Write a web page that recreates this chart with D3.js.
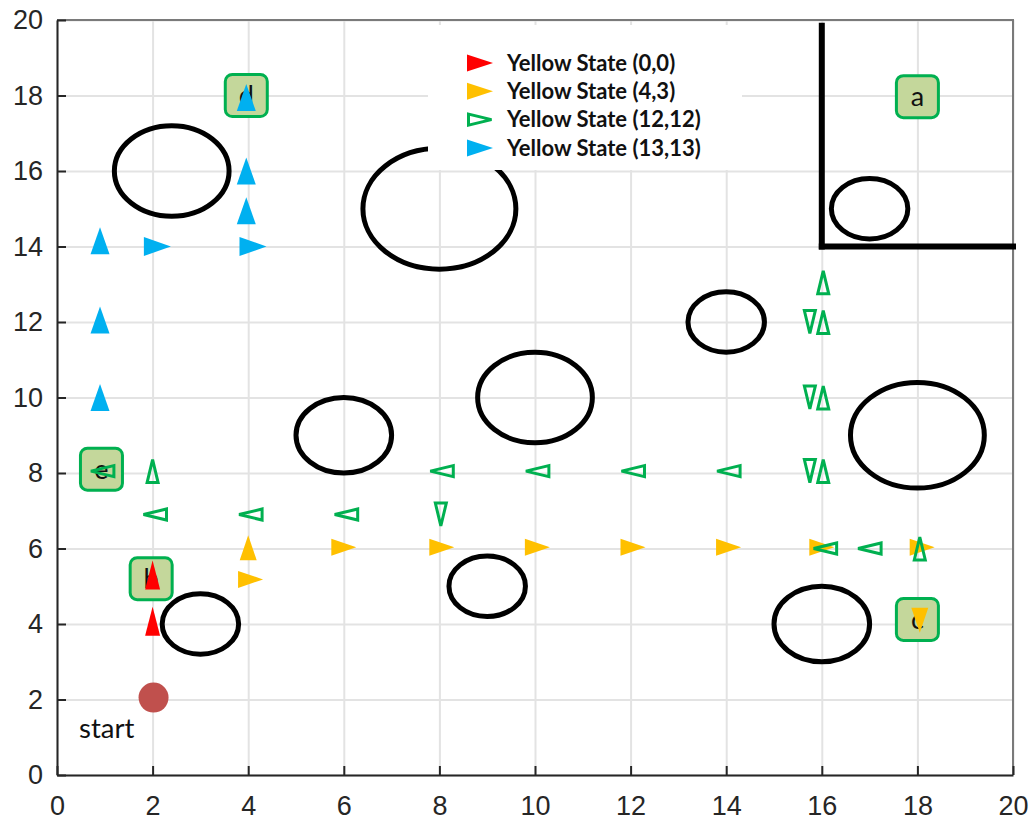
<!DOCTYPE html>
<html>
<head>
<meta charset="utf-8">
<script src="https://cdn.jsdelivr.net/npm/d3@7"></script>
<style>
  body { margin: 0; background: #fff; }
  svg { display: block; }
  .tick text { font-family: "Liberation Sans", Arial, sans-serif; fill: #262626; }
</style>
</head>
<body>
<svg id="chart" width="1034" height="823"></svg>
<script>
// ---- data ----
var xTicks = [0, 2, 4, 6, 8, 10, 12, 14, 16, 18, 20];
var yTicks = [0, 2, 4, 6, 8, 10, 12, 14, 16, 18, 20];

// circular obstacles (centre x, centre y, radius) in grid units
var obsX = [2.4, 8, 17, 14, 10, 18, 6, 9, 3, 16];
var obsY = [16, 15, 15, 12, 10, 9, 9, 5, 4, 4];
var obsR = [1.2, 1.6, 0.8, 0.8, 1.2, 1.4, 1, 0.8, 0.8, 1];

// thick walls [x1, y1, x2, y2]
var walls = [[16, 14, 16, 19.85], [16, 14, 20, 14]];

// labelled cells
var cellNames = ["a", "d", "e", "b", "c"];
var cellX = [18, 3.96, 0.93, 1.97, 18];
var cellY = [17.97, 18, 8.1, 5.2, 4.12];

var startPoint = [2.02, 2.05];

// action arrows per yellow state: [x, y, direction]
var state00 = [[2, 4.07, "^"], [2, 5.3, "^"]];
var state43 = [[4, 6.02, "^"], [4.05, 5.18, ">"], [6, 6.03, ">"], [8.05, 6.03, ">"],
  [10.05, 6.03, ">"], [12.05, 6.03, ">"], [14.05, 6.03, ">"], [16, 6.03, ">"],
  [18.1, 6.03, ">"], [18.05, 4.1, "v"]];
var state1212 = [[0.95, 8.05, "<"], [2.05, 6.9, "<"], [4.05, 6.9, "<"], [6.05, 6.9, "<"],
  [8.05, 8.05, "<"], [10.05, 8.05, "<"], [12.05, 8.05, "<"], [14.05, 8.05, "<"],
  [16.07, 6, "<"], [17, 6, "<"], [2, 8.05, "^"], [16.03, 13.05, "^"], [16.03, 12, "^"],
  [16.03, 10, "^"], [16.03, 8.05, "^"], [18.05, 6, "^"], [8.03, 6.9, "v"],
  [15.75, 12, "v"], [15.75, 10, "v"], [15.75, 8.05, "v"]];
var state1313 = [[3.96, 17.95, "^"], [3.96, 16, "^"], [3.96, 14.95, "^"], [0.9, 14.15, "^"],
  [0.9, 12.05, "^"], [0.9, 10, "^"], [4.1, 14, ">"], [2.1, 14, ">"]];

var legendLabels = ["Yellow State (0,0)", "Yellow State (4,3)", "Yellow State (12,12)", "Yellow State (13,13)"];
var seriesColors = ["#ff0000", "#ffc000", "#00b050", "#00b0f0"];

// ---- chart ----
(function() {
var svg = d3.select("#chart");
var pL = 57, pR = 1013, pT = 20, pB = 775;
var x = d3.scaleLinear().domain([0, 20]).range([pL, pR]);
var y = d3.scaleLinear().domain([0, 20]).range([pB, pT]);

// grid
svg.append("g")
  .attr("transform", "translate(0," + pB + ")")
  .call(d3.axisBottom(x).tickValues(xTicks).tickSize(-(pB - pT)).tickFormat(""))
  .call(function(g) {
    g.select(".domain").remove();
    g.selectAll("line").attr("stroke", "#e3e3e3").attr("stroke-width", 2);
  });
svg.append("g")
  .attr("transform", "translate(" + pL + ",0)")
  .call(d3.axisLeft(y).tickValues(yTicks).tickSize(-(pR - pL)).tickFormat(""))
  .call(function(g) {
    g.select(".domain").remove();
    g.selectAll("line").attr("stroke", "#e3e3e3").attr("stroke-width", 2);
  });

// box top/right
svg.append("path")
  .attr("d", "M" + pL + "," + pT + "H" + pR + "V" + pB)
  .attr("fill", "none").attr("stroke", "#7a7a7a").attr("stroke-width", 2);

// axes
var xAxis = svg.append("g")
  .attr("transform", "translate(0," + pB + ")")
  .call(d3.axisBottom(x).tickValues(xTicks).tickSizeInner(-9).tickSizeOuter(0).tickPadding(21));
var yAxis = svg.append("g")
  .attr("transform", "translate(" + pL + ",0)")
  .call(d3.axisLeft(y).tickValues(yTicks).tickSizeInner(-9).tickSizeOuter(0).tickPadding(14));
[xAxis, yAxis].forEach(function(g) {
  g.select(".domain").attr("stroke", "#262626").attr("stroke-width", 2);
  g.selectAll(".tick line").attr("stroke", "#262626").attr("stroke-width", 2);
  g.selectAll(".tick text").attr("font-size", 27);
});

// obstacles
svg.append("g").selectAll("ellipse")
  .data(obsX)
  .join("ellipse")
  .attr("cx", function(d, i) { return x(obsX[i]); })
  .attr("cy", function(d, i) { return y(obsY[i]); })
  .attr("rx", function(d, i) { return x(obsR[i]) - x(0); })
  .attr("ry", function(d, i) { return y(0) - y(obsR[i]); })
  .attr("fill", "none").attr("stroke", "#000").attr("stroke-width", 5);

// walls
svg.append("g").selectAll("line")
  .data(walls)
  .join("line")
  .attr("x1", function(d) { return x(d[0]); })
  .attr("y1", function(d) { return y(d[1]); })
  .attr("x2", function(d) { return x(d[2]); })
  .attr("y2", function(d) { return y(d[3]); })
  .attr("stroke", "#000").attr("stroke-width", 6).attr("stroke-linecap", "square");

// labelled cells
var cells = svg.append("g").selectAll("g")
  .data(cellNames)
  .join("g")
  .attr("transform", function(d, i) { return "translate(" + x(cellX[i]) + "," + y(cellY[i]) + ")"; });
cells.append("rect")
  .attr("x", -21).attr("y", -21).attr("width", 42).attr("height", 42).attr("rx", 7)
  .attr("fill", "#c4d79b").attr("stroke", "#00b050").attr("stroke-width", 3);
cells.append("text")
  .attr("text-anchor", "middle").attr("dy", "0.35em")
  .attr("font-family", "Lato, 'Open Sans', sans-serif").attr("font-size", 27).attr("fill", "#111")
  .text(function(d) { return d; });

// start
svg.append("circle")
  .attr("cx", x(startPoint[0])).attr("cy", y(startPoint[1])).attr("r", 15)
  .attr("fill", "#c0504d");
svg.append("text")
  .attr("x", 79).attr("y", 738)
  .attr("font-family", "Lato, 'Open Sans', sans-serif").attr("font-size", 27.5).attr("fill", "#111")
  .text("start");

// triangle marker path, centred on 0,0
function tri(len, base, dir) {
  var h = len / 2, b = base / 2;
  if (dir === "^") return "M0," + (-h) + "L" + b + "," + h + "L" + (-b) + "," + h + "Z";
  if (dir === "v") return "M0," + h + "L" + b + "," + (-h) + "L" + (-b) + "," + (-h) + "Z";
  if (dir === ">") return "M" + h + ",0L" + (-h) + "," + b + "L" + (-h) + "," + (-b) + "Z";
  return "M" + (-h) + ",0L" + h + "," + b + "L" + h + "," + (-b) + "Z";
}

function drawSeries(data, color, len, base, open) {
  svg.append("g").selectAll("path")
    .data(data)
    .join("path")
    .attr("transform", function(d) { return "translate(" + x(d[0]) + "," + y(d[1]) + ")"; })
    .attr("d", function(d) { return tri(len, base, d[2]); })
    .attr("fill", open ? "none" : color)
    .attr("stroke", open ? color : "none")
    .attr("stroke-width", open ? 3 : 0);
}
drawSeries(state00, seriesColors[0], 29, 15, false);
drawSeries(state43, seriesColors[1], 25, 17, false);
drawSeries(state1212, seriesColors[2], 23, 11, true);
drawSeries(state1313, seriesColors[3], 27, 19, false);

// legend
var lg = svg.append("g");
lg.append("rect").attr("x", 428).attr("y", 25).attr("width", 314).attr("height", 145).attr("fill", "#fff");
var rows = lg.selectAll("g.row")
  .data(legendLabels)
  .join("g").attr("class", "row")
  .attr("transform", function(d, i) { return "translate(480," + (63 + i * 28.3) + ")"; });
rows.append("path")
  .attr("d", function(d, i) { return i === 2 ? tri(23, 11, ">") : tri(26, 17, ">"); })
  .attr("fill", function(d, i) { return i === 2 ? "none" : seriesColors[i]; })
  .attr("stroke", function(d, i) { return i === 2 ? seriesColors[i] : "none"; })
  .attr("stroke-width", 3);
rows.append("text")
  .attr("x", 27).attr("dy", "0.35em")
  .attr("font-family", "Lato, 'Open Sans', sans-serif").attr("font-weight", "bold")
  .attr("font-size", 22).attr("fill", "#111")
  .text(function(d) { return d; });
})();
</script>
</body>
</html>
